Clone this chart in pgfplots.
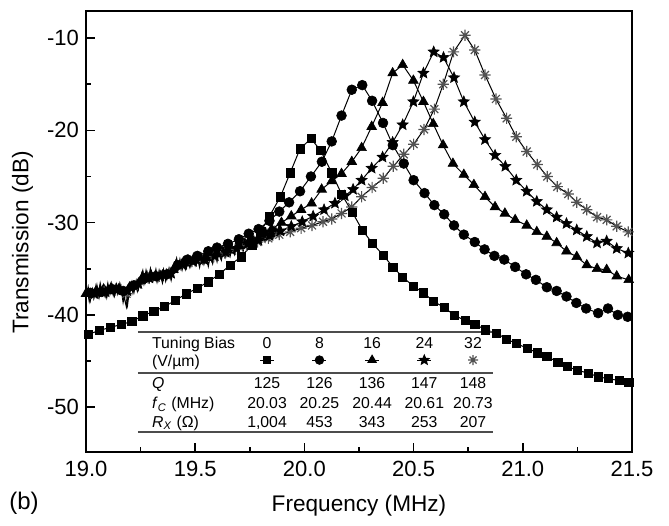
\documentclass[border=0pt]{standalone}
\usepackage{fontspec}
\setmainfont{Liberation Sans}
\usepackage{pgfplots}
\pgfplotsset{compat=1.18}
\usepackage{pgfplotstable}
\usetikzlibrary{plotmarks}
\pgfdeclareplotmark{fstar}{%
  \pgfpathmoveto{\pgfpointpolar{90}{\pgfplotmarksize}}%
  \pgfpathlineto{\pgfpointpolar{126}{0.45\pgfplotmarksize}}%
  \pgfpathlineto{\pgfpointpolar{162}{\pgfplotmarksize}}%
  \pgfpathlineto{\pgfpointpolar{198}{0.45\pgfplotmarksize}}%
  \pgfpathlineto{\pgfpointpolar{234}{\pgfplotmarksize}}%
  \pgfpathlineto{\pgfpointpolar{270}{0.45\pgfplotmarksize}}%
  \pgfpathlineto{\pgfpointpolar{306}{\pgfplotmarksize}}%
  \pgfpathlineto{\pgfpointpolar{342}{0.45\pgfplotmarksize}}%
  \pgfpathlineto{\pgfpointpolar{18}{\pgfplotmarksize}}%
  \pgfpathlineto{\pgfpointpolar{54}{0.45\pgfplotmarksize}}%
  \pgfpathclose
  \pgfusepathqfillstroke}
\pgfdeclareplotmark{ast8}{%
  \pgfpathmoveto{\pgfqpoint{0pt}{\pgfplotmarksize}}\pgfpathlineto{\pgfqpoint{0pt}{-\pgfplotmarksize}}%
  \pgfpathmoveto{\pgfqpoint{\pgfplotmarksize}{0pt}}\pgfpathlineto{\pgfqpoint{-\pgfplotmarksize}{0pt}}%
  \pgfpathmoveto{\pgfpointpolar{45}{\pgfplotmarksize}}\pgfpathlineto{\pgfpointpolar{225}{\pgfplotmarksize}}%
  \pgfpathmoveto{\pgfpointpolar{135}{\pgfplotmarksize}}\pgfpathlineto{\pgfpointpolar{315}{\pgfplotmarksize}}%
  \pgfusepathqstroke}
\begin{document}
\pgfplotstableread{
x y
19.01 -42.1
19.06 -41.7
19.11 -41.35
19.16 -41.05
19.21 -40.7
19.26 -40.1
19.31 -39.6
19.36 -39.1
19.41 -38.4
19.46 -37.7
19.51 -37.1
19.56 -36.4
19.61 -35.6
19.66 -34.6
19.71 -33.7
19.76 -32.4
19.80 -31.0
19.84 -29.3
19.89 -27.2
19.935 -24.6
19.98 -22.0
20.03 -20.9
20.075 -22.2
20.125 -24.6
20.17 -26.9
20.22 -28.9
20.265 -30.8
20.31 -32.2
20.36 -33.5
20.405 -34.8
20.45 -35.9
20.50 -36.9
20.545 -37.6
20.59 -38.5
20.64 -39.2
20.685 -40.0
20.735 -40.6
20.78 -41.0
20.83 -41.6
20.88 -42.0
20.925 -42.6
20.97 -43.1
21.02 -43.6
21.065 -44.1
21.11 -44.5
21.16 -45.1
21.205 -45.6
21.25 -46.0
21.30 -46.3
21.345 -46.7
21.39 -46.9
21.44 -47.1
21.485 -47.3
}\sq
\pgfplotstableread{
x y
19.02 -37.6
19.07 -37.5
19.12 -37.2
19.17 -37.4
19.22 -36.8
19.27 -36.0
19.32 -35.8
19.37 -35.6
19.42 -34.6
19.465 -34.0
19.51 -33.6
19.56 -33.1
19.60 -32.7
19.65 -32.3
19.70 -31.8
19.745 -31.2
19.79 -30.7
19.84 -29.8
19.885 -28.8
19.93 -27.8
19.98 -26.6
20.03 -25.0
20.08 -23.4
20.125 -21.2
20.17 -18.4
20.217 -15.6
20.265 -15.1
20.31 -16.8
20.36 -19.2
20.405 -21.6
20.455 -23.6
20.50 -25.4
20.55 -26.8
20.595 -28.1
20.64 -29.1
20.685 -30.3
20.73 -31.3
20.78 -32.1
20.825 -32.9
20.87 -33.6
20.915 -34.0
20.965 -34.8
21.015 -35.6
21.06 -36.2
21.11 -37.0
21.155 -37.4
21.20 -38.0
21.245 -38.7
21.29 -39.3
21.345 -39.8
21.39 -39.3
21.435 -40.0
21.48 -40.2
}\ci
\pgfplotstableread{
x y
19.00 -37.7
19.05 -37.5
19.10 -37.4
19.15 -37.2
19.20 -37.0
19.25 -36.3
19.30 -35.9
19.35 -35.7
19.40 -35.1
19.45 -34.4
19.50 -34.1
19.55 -33.8
19.60 -33.4
19.65 -33.0
19.70 -32.5
19.75 -31.9
19.80 -31.3
19.85 -30.7
19.895 -30.0
19.94 -29.3
19.985 -28.6
20.033 -27.9
20.079 -26.4
20.125 -25.5
20.17 -24.7
20.217 -23.4
20.262 -21.9
20.308 -19.6
20.358 -17.0
20.404 -13.8
20.45 -12.9
20.499 -14.6
20.545 -16.9
20.59 -19.3
20.635 -21.6
20.68 -23.6
20.73 -24.8
20.776 -25.9
20.827 -27.2
20.873 -28.3
20.918 -29.0
20.965 -29.7
21.018 -30.3
21.064 -31.0
21.11 -31.5
21.155 -32.2
21.20 -33.1
21.247 -33.7
21.293 -34.6
21.34 -35.0
21.384 -35.1
21.43 -35.8
21.485 -36.2
}\tr
\pgfplotstableread{
x y
19.04 -37.7
19.09 -37.5
19.14 -37.3
19.19 -37.4
19.24 -36.6
19.29 -36.0
19.34 -35.8
19.39 -35.5
19.44 -34.5
19.49 -34.2
19.54 -34.0
19.59 -33.6
19.64 -33.2
19.69 -32.8
19.74 -32.3
19.79 -31.9
19.84 -31.4
19.89 -30.9
19.94 -30.4
19.99 -29.9
20.04 -29.3
20.09 -28.6
20.14 -27.9
20.185 -27.1
20.223 -26.4
20.262 -25.4
20.308 -24.1
20.358 -22.9
20.404 -21.3
20.45 -19.4
20.499 -16.9
20.545 -13.8
20.592 -11.5
20.637 -12.1
20.685 -14.3
20.73 -16.9
20.78 -19.1
20.827 -21.0
20.873 -22.7
20.92 -23.9
20.97 -25.4
21.018 -26.6
21.064 -27.7
21.11 -28.6
21.155 -29.4
21.20 -30.1
21.247 -30.8
21.293 -31.5
21.34 -32.2
21.384 -32.0
21.43 -32.8
21.483 -33.3
}\st
\pgfplotstableread{
x y
19.035 -37.8
19.085 -37.5
19.135 -37.3
19.185 -37.7
19.235 -36.7
19.285 -36.0
19.335 -35.8
19.385 -35.4
19.435 -34.6
19.485 -34.2
19.535 -34.0
19.585 -33.7
19.635 -33.3
19.685 -32.9
19.735 -32.5
19.785 -32.1
19.835 -31.7
19.885 -31.3
19.935 -31.0
19.985 -30.6
20.035 -30.3
20.085 -29.9
20.125 -29.6
20.17 -29.0
20.217 -28.3
20.262 -27.2
20.31 -26.2
20.361 -25.2
20.407 -23.9
20.455 -22.6
20.50 -21.5
20.548 -19.9
20.595 -17.7
20.636 -15.0
20.683 -11.5
20.735 -9.7
20.78 -11.3
20.827 -14.0
20.877 -16.6
20.926 -18.7
20.97 -20.7
21.018 -22.3
21.066 -23.7
21.112 -25.0
21.158 -26.1
21.208 -26.9
21.247 -27.8
21.293 -28.6
21.34 -29.4
21.384 -29.7
21.43 -30.4
21.483 -31.0
}\as
\pgfplotstableread{
x y
19.00 -38.1
19.01 -37.0
19.02 -38.4
19.03 -37.2
19.04 -38.0
19.05 -36.8
19.06 -38.1
19.07 -37.1
19.08 -36.7
19.09 -37.9
19.10 -36.6
19.11 -37.7
19.12 -36.8
19.13 -37.9
19.14 -36.7
19.15 -37.6
19.16 -36.9
19.17 -38.6
19.18 -37.4
19.19 -38.9
19.20 -37.0
19.21 -36.4
19.22 -37.5
19.23 -36.3
19.24 -37.2
19.25 -35.9
19.26 -35.2
19.27 -36.5
19.28 -35.4
19.29 -36.4
19.30 -35.3
19.31 -36.2
19.32 -35.1
19.33 -36.3
19.34 -35.5
19.35 -36.5
19.36 -35.4
19.37 -36.1
19.38 -35.0
19.39 -36.2
19.40 -35.1
19.41 -34.2
19.42 -35.2
19.43 -34.0
19.44 -35.1
19.45 -34.1
19.46 -34.9
19.47 -33.7
19.48 -34.7
19.49 -33.6
19.50 -34.6
19.51 -33.8
19.52 -34.8
19.53 -33.5
19.54 -34.5
19.55 -33.7
19.56 -34.7
19.57 -33.4
19.58 -34.4
19.59 -33.3
19.60 -34.2
19.61 -33.0
19.62 -34.0
19.63 -32.8
19.64 -33.7
19.65 -32.7
19.66 -33.6
19.67 -32.5
19.68 -33.4
19.69 -32.4
19.70 -33.2
19.71 -32.1
19.72 -33.0
19.73 -31.9
19.74 -32.8
19.75 -31.7
19.76 -32.6
19.77 -31.6
19.78 -32.4
19.79 -31.3
19.80 -32.2
19.81 -31.1
19.82 -32.0
19.83 -30.9
19.84 -31.8
19.85 -30.7
19.86 -31.6
19.87 -30.6
19.88 -31.4
19.89 -30.4
19.90 -31.2
}\nA
\pgfplotstableread{
x y
19.005 -37.1
19.015 -38.5
19.025 -37.4
19.035 -38.2
19.045 -36.9
19.055 -37.9
19.065 -36.6
19.075 -37.7
19.085 -36.9
19.095 -38.1
19.105 -37.0
19.115 -36.5
19.125 -37.8
19.135 -36.8
19.145 -37.7
19.155 -36.6
19.165 -37.5
19.175 -38.1
19.185 -39.1
19.195 -37.5
19.205 -36.6
19.215 -37.6
19.225 -36.5
19.235 -37.4
19.245 -36.2
19.255 -35.5
19.265 -36.6
19.275 -35.2
19.285 -36.2
19.295 -35.0
19.305 -36.1
19.315 -35.4
19.325 -36.4
19.335 -35.2
19.345 -36.1
19.355 -35.1
19.365 -36.3
19.375 -35.3
19.385 -36.0
19.395 -34.9
19.405 -35.0
19.415 -33.9
19.425 -35.0
19.435 -34.3
19.445 -33.8
19.455 -35.0
19.465 -34.0
19.475 -34.8
19.485 -33.8
19.495 -33.5
19.505 -34.5
19.515 -33.4
19.525 -34.3
19.535 -33.7
19.545 -33.3
19.555 -34.3
19.565 -33.2
19.575 -34.1
19.585 -33.0
19.595 -33.9
19.605 -32.8
19.615 -33.8
19.625 -32.7
19.635 -33.5
19.645 -32.5
19.655 -33.4
19.665 -32.3
19.675 -33.2
19.685 -32.2
19.695 -33.0
19.705 -32.0
19.715 -32.9
19.725 -31.8
19.735 -32.7
19.745 -31.6
19.755 -32.5
19.765 -31.4
19.775 -32.3
19.785 -31.2
19.795 -32.1
19.805 -31.0
19.815 -31.9
19.825 -30.8
19.835 -31.7
19.845 -30.6
19.855 -31.5
19.865 -30.5
19.875 -31.2
19.885 -30.2
19.895 -31.1
}\nB
\begin{tikzpicture}
\begin{axis}[
  scale only axis, width=273pt, height=220.5pt,
  xmin=19, xmax=21.5, ymin=-54.85, ymax=-7.07,
  xtick={19,19.5,20,20.5,21,21.5}, ytick={-50,-40,-30,-20,-10},
  minor x tick num=1, minor y tick num=1,
  tick align=inside, tick pos=left,
  major tick length=4.5pt, minor tick length=2.3pt,
  tick style={black, line width=0.8pt},
  axis line style={line width=1pt},
  /pgf/number format/assume math mode=true,
  xticklabel style={/pgf/number format/fixed, /pgf/number format/fixed zerofill, /pgf/number format/precision=1, yshift=-1pt},
  tick label style={font=\fontsize{11}{13}\selectfont},
  xlabel={Frequency (MHz)}, ylabel={Transmission (dB)},
  label style={font=\fontsize{11.3}{14}\selectfont},
  xlabel style={at={(axis description cs:0.5,0)}, anchor=base, yshift=-29.5pt},
  ylabel style={at={(axis description cs:-0.1055,0.475)}, anchor=base},
]
\addplot[black, line width=0.6pt] table {\nA};
\addplot[black, line width=0.6pt] table {\nB};
\addplot[black, line width=0.5pt, mark=ast8, mark size=2.8pt, mark options={solid, draw=black!68, line width=0.6pt}] table {\as};
\addplot[black, line width=0.5pt, mark=fstar, mark size=2.9pt, mark options={solid, fill=black, line width=0.3pt}] table {\st};
\addplot[black, line width=0.5pt, mark=triangle*, mark size=2.8pt, mark options={solid, fill=black, line width=0.3pt}] table {\tr};
\addplot[black, line width=0.5pt, mark=*, mark size=2.45pt, mark options={solid, fill=black, line width=0.3pt}] table {\ci};
\addplot[black, line width=0.5pt, mark=square*, mark size=2.05pt, mark options={solid, fill=black, line width=0.3pt}] table {\sq};
% legend samples inside the table
\addplot[black, line width=0.5pt, mark=square*, mark size=1.8pt, mark indices={2}, mark options={fill=black}] coordinates {(19.797,-44.89) (19.829,-44.89) (19.861,-44.89)};
\addplot[black, line width=0.5pt, mark=*, mark size=2.1pt, mark indices={2}, mark options={fill=black}] coordinates {(20.037,-44.89) (20.069,-44.89) (20.101,-44.89)};
\addplot[black, line width=0.5pt, mark=triangle*, mark size=2.4pt, mark indices={2}, mark options={fill=black}] coordinates {(20.278,-44.89) (20.310,-44.89) (20.342,-44.89)};
\addplot[black, line width=0.5pt, mark=fstar, mark size=2.5pt, mark indices={2}, mark options={fill=black}] coordinates {(20.517,-44.89) (20.549,-44.89) (20.581,-44.89)};
\addplot[black!68, line width=0.6pt, mark=ast8, mark size=2.5pt, only marks] coordinates {(20.772,-44.89)};
% table
\draw[black!70, line width=0.9pt] (axis cs:19.238,-41.82) -- (axis cs:20.864,-41.82);
\draw[black!70, line width=0.9pt] (axis cs:19.238,-46.26) -- (axis cs:20.864,-46.26);
\draw[black!70, line width=0.9pt] (axis cs:19.238,-52.69) -- (axis cs:20.864,-52.69);
\begin{scope}[every node/.style={font=\fontsize{7.9}{9}\selectfont, inner sep=0pt}]
\node[anchor=base west] at (axis cs:19.301,-43.69) {Tuning Bias};
\node[anchor=base west] at (axis cs:19.301,-45.54) {(V/µm)};
\node[anchor=base west] at (axis cs:19.301,-47.92) {\textit{Q}};
\node[anchor=base west] at (axis cs:19.301,-50.19) {\textit{f}\textsubscript{\textit{C}} (MHz)};
\node[anchor=base west] at (axis cs:19.301,-52.15) {\textit{R}\textsubscript{\textit{X}} (Ω)};
\node[anchor=base] at (axis cs:19.829,-43.69) {0};
\node[anchor=base] at (axis cs:20.069,-43.69) {8};
\node[anchor=base] at (axis cs:20.310,-43.69) {16};
\node[anchor=base] at (axis cs:20.549,-43.69) {24};
\node[anchor=base] at (axis cs:20.772,-43.69) {32};
\node[anchor=base] at (axis cs:19.829,-47.92) {125};
\node[anchor=base] at (axis cs:20.069,-47.92) {126};
\node[anchor=base] at (axis cs:20.310,-47.92) {136};
\node[anchor=base] at (axis cs:20.549,-47.92) {147};
\node[anchor=base] at (axis cs:20.772,-47.92) {148};
\node[anchor=base] at (axis cs:19.829,-50.19) {20.03};
\node[anchor=base] at (axis cs:20.069,-50.19) {20.25};
\node[anchor=base] at (axis cs:20.310,-50.19) {20.44};
\node[anchor=base] at (axis cs:20.549,-50.19) {20.61};
\node[anchor=base] at (axis cs:20.772,-50.19) {20.73};
\node[anchor=base] at (axis cs:19.829,-52.15) {1,004};
\node[anchor=base] at (axis cs:20.069,-52.15) {453};
\node[anchor=base] at (axis cs:20.310,-52.15) {343};
\node[anchor=base] at (axis cs:20.549,-52.15) {253};
\node[anchor=base] at (axis cs:20.772,-52.15) {207};
\end{scope}
\end{axis}
\node[font=\fontsize{12}{14}\selectfont] at ([shift={(-31pt,-25.5pt)}]current axis.south west) {(b)};
\pgfresetboundingbox
\path ([shift={(-43pt,-36.5pt)}]current axis.south west) rectangle ([shift={(18.5pt,5.5pt)}]current axis.north east);
\end{tikzpicture}
\end{document}
